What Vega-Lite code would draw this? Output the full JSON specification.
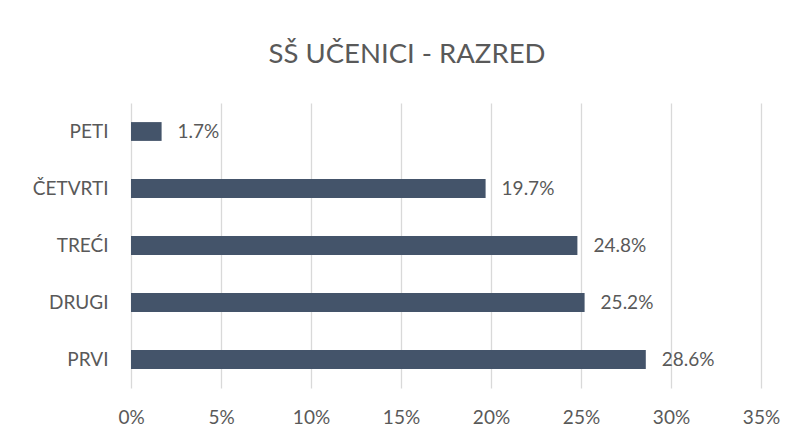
{
  "$schema": "https://vega.github.io/schema/vega-lite/v6.json",
  "width": 630,
  "height": 285,
  "autosize": {"type": "none"},
  "padding": {"left": 131, "top": 103, "right": 34, "bottom": 51},
  "background": "white",
  "title": {
    "text": "SŠ UČENICI - RAZRED",
    "font": "Lato, Open Sans, sans-serif",
    "fontSize": 27.5,
    "fontWeight": "normal",
    "color": "#595959",
    "anchor": "middle",
    "dx": -39,
    "offset": 35
  },
  "data": {
    "values": [
      {"razred": "PETI", "udio": 0.017},
      {"razred": "ČETVRTI", "udio": 0.197},
      {"razred": "TREĆI", "udio": 0.248},
      {"razred": "DRUGI", "udio": 0.252},
      {"razred": "PRVI", "udio": 0.286}
    ]
  },
  "encoding": {
    "y": {
      "field": "razred",
      "type": "nominal",
      "sort": null,
      "scale": {"paddingInner": 0.67, "paddingOuter": 0.335},
      "axis": {
        "title": null,
        "domain": false,
        "ticks": false,
        "labelPadding": 23,
        "labelFont": "Lato, Open Sans, sans-serif",
        "labelFontSize": 19,
        "labelColor": "#595959"
      }
    },
    "x": {
      "field": "udio",
      "type": "quantitative",
      "scale": {"domain": [0, 0.35], "nice": false},
      "axis": {
        "title": null,
        "values": [0, 0.05, 0.1, 0.15, 0.2, 0.25, 0.3, 0.35],
        "format": ".0%",
        "labelFlush": false,
        "domain": false,
        "ticks": false,
        "grid": true,
        "gridColor": "#D9D9D9",
        "gridWidth": 1.3,
        "labelPadding": 20,
        "labelFont": "Lato, Open Sans, sans-serif",
        "labelFontSize": 19,
        "labelColor": "#595959"
      }
    }
  },
  "layer": [
    {"mark": {"type": "bar", "color": "#44546A"}},
    {
      "mark": {
        "type": "text",
        "align": "left",
        "baseline": "middle",
        "dx": 16,
        "font": "Lato, Open Sans, sans-serif",
        "fontSize": 19,
        "color": "#595959"
      },
      "encoding": {"text": {"field": "udio", "type": "quantitative", "format": ".1%"}}
    }
  ],
  "config": {"view": {"stroke": null}}
}
